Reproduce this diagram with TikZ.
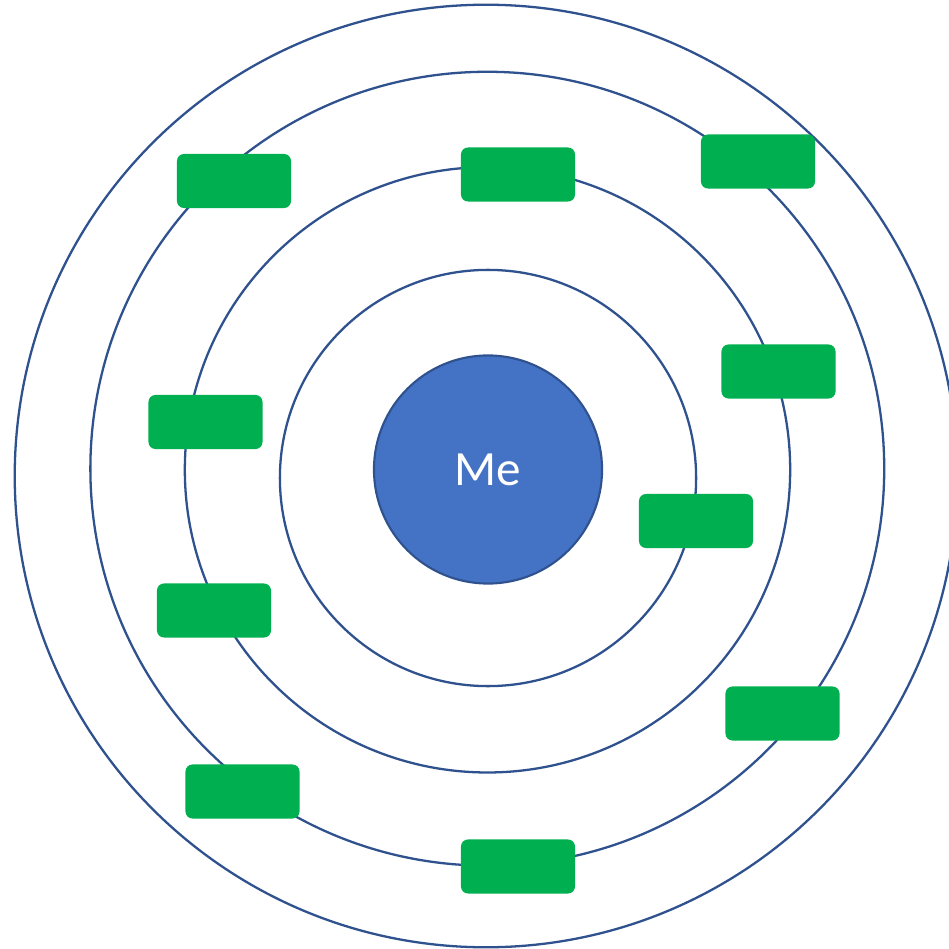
\documentclass[tikz,border=0pt]{standalone}
\usepackage{fontspec}
\newfontfamily\carlito{Carlito}
\definecolor{ringblue}{HTML}{2F528F}
\definecolor{mefill}{HTML}{4472C4}
\definecolor{boxgreen}{HTML}{00B050}
\begin{document}
\begin{tikzpicture}[x=0.01cm,y=-0.01cm,
  ring/.style={draw=ringblue,line width=0.65pt},
  greenbox/.style={draw=none,fill=boxgreen,rounded corners=0.07cm,minimum width=1.14cm,minimum height=0.54cm,inner sep=0pt},
  mecircle/.style={circle,draw=ringblue,line width=0.6pt,fill=mefill,minimum size=2.28cm,inner sep=0pt,text=white,font=\carlito\fontsize{14}{16}\selectfont}]
\useasboundingbox (0,0) rectangle (949,949);
\fill[white] (0,0) rectangle (949,949);
% rings
\draw[ring] (486,476) circle [radius=4.71cm];
\draw[ring] (487.3,468.7) circle [radius=3.967cm];
\draw[ring] (487.5,469.8) circle [radius=3.025cm];
\draw[ring] (488,478) circle [radius=2.08cm];
% boxes
\node[greenbox] (b1) at (234,181) {};
\node[greenbox] (b2) at (518,174.5) {};
\node[greenbox] (b3) at (758,161.5) {};
\node[greenbox] (b4) at (778.5,371.5) {};
\node[greenbox] (b5) at (205.5,422) {};
\node[greenbox] (b6) at (696,521) {};
\node[greenbox] (b7) at (214,610.5) {};
\node[greenbox] (b8) at (782.5,713.5) {};
\node[greenbox] (b9) at (242.5,791.5) {};
\node[greenbox] (b10) at (518,866.5) {};
% centre
\node[mecircle] (me) at (488,469.5) {Me};
\end{tikzpicture}
\end{document}
